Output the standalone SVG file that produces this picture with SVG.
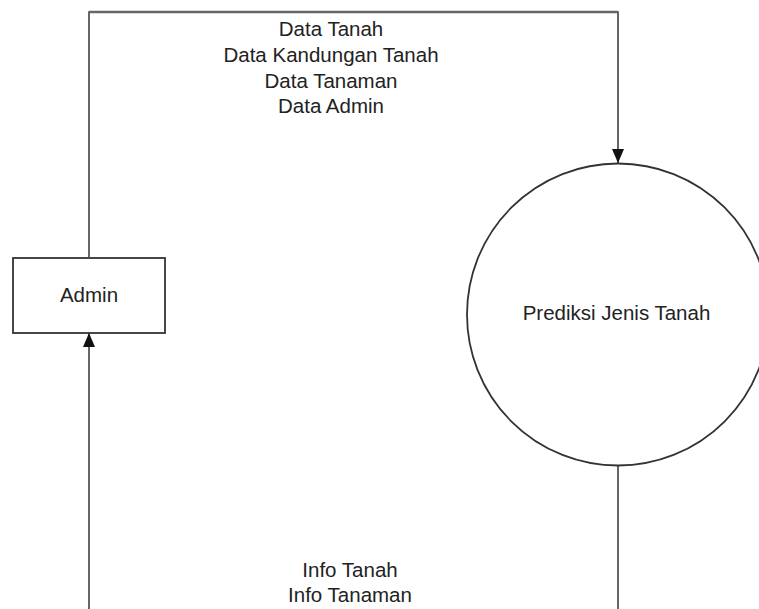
<svg xmlns="http://www.w3.org/2000/svg" width="759" height="609" viewBox="0 0 759 609">
<style>
  .lbl { font-family: "Liberation Sans", Arial, sans-serif; font-size: 20.5px; fill: #222; text-anchor: middle; }
  .flow { fill: none; stroke: #333; stroke-width: 1.5; }
  .node { fill: #fff; stroke: #333; stroke-width: 1.8; }
</style>
<defs>
  <marker id="arr" markerUnits="userSpaceOnUse" markerWidth="14" markerHeight="12" refX="14" refY="6" orient="auto">
    <path d="M0,0 L14,6 L0,12 z" fill="#111"/>
  </marker>
</defs>
<rect width="759" height="609" fill="#fff"/>
<g id="connectors">
  <path class="flow" d="M89,257 V12 H618 V163" marker-end="url(#arr)"/>
  <path d="M89,12 H618" fill="none" stroke="#666" stroke-width="2.4"/>
  <path class="flow" d="M618,466 V609"/>
  <path class="flow" d="M89,609 V333" marker-end="url(#arr)"/>
  <g id="label-top">
    <text class="lbl" x="331" y="36">Data Tanah</text>
    <text class="lbl" x="331" y="62">Data Kandungan Tanah</text>
    <text class="lbl" x="331" y="88">Data Tanaman</text>
    <text class="lbl" x="331" y="113">Data Admin</text>
  </g>
  <g id="label-bottom">
    <text class="lbl" x="350" y="577">Info Tanah</text>
    <text class="lbl" x="350" y="602">Info Tanaman</text>
  </g>
</g>
<g id="admin">
  <rect class="node" x="13" y="258" width="152" height="75"/>
  <text class="lbl" x="89" y="302">Admin</text>
</g>
<g id="prediksi">
  <circle class="node" cx="618" cy="314.5" r="151"/>
  <text class="lbl" x="616.5" y="320">Prediksi Jenis Tanah</text>
</g>
</svg>
